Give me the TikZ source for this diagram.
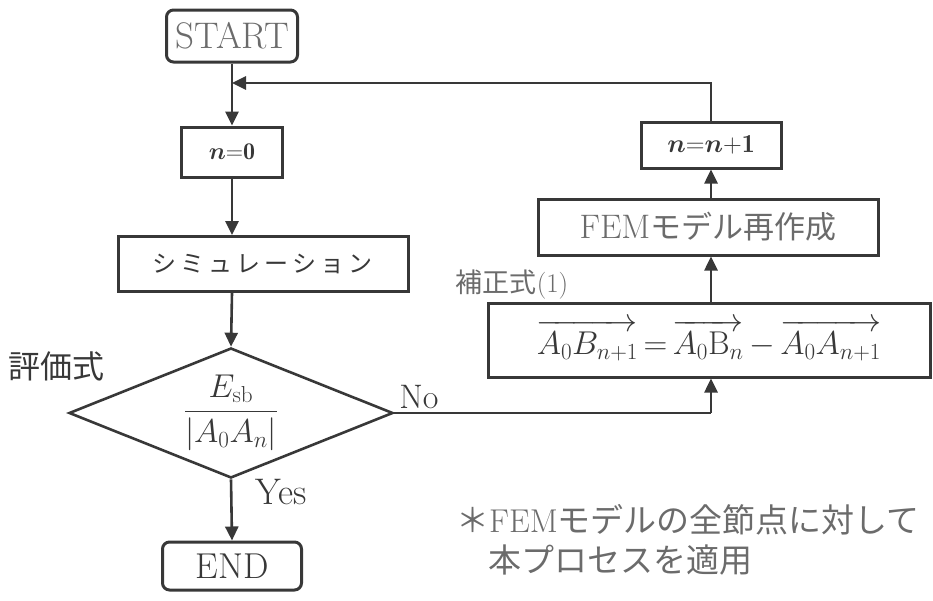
\RequirePackage{fix-cm}
\documentclass[tikz,border=0pt]{standalone}
\usepackage{amsmath}
\usepackage{fontspec}
\newfontfamily\cjk{Noto Sans CJK JP}
\usetikzlibrary{arrows.meta,shapes.geometric}
\definecolor{ink}{gray}{0.22}
\definecolor{lite}{gray}{0.42}
\tikzset{
  box/.style={draw=ink,line width=3pt,rectangle,inner sep=0pt,text=ink},
  rbox/.style={box,rounded corners=7pt},
  flow/.style={draw=ink,line width=2.6pt},
  arr/.style={flow,-{Triangle[length=14pt,width=13pt]}},
  lbl/.style={text=ink,inner sep=0pt},
}
\begin{document}
\begin{tikzpicture}[x=1pt,y=-1pt]
\useasboundingbox (0,0) rectangle (933,600);
% left column
\node[rbox,minimum width=131pt,minimum height=52pt,text=lite,font=\fontsize{37}{37}\selectfont] (start) at (232,36) {START};
\node[box,minimum width=101pt,minimum height=50pt,font=\fontsize{24}{24}\selectfont] (n0) at (232,152) {$\boldsymbol{n}{=}\mathbf{0}$};
\node[box,minimum width=290pt,minimum height=55pt,font=\cjk\fontsize{24}{24}\selectfont] (sim) at (263,264) {シ\,ミ\,ュ\,レ\,ー\,シ\,ョ\,ン};
\node[diamond,draw=ink,line width=2.6pt,minimum width=324pt,minimum height=130pt,aspect=2.5,inner sep=0pt,text=ink,font=\fontsize{33}{33}\selectfont] (dia) at (231,413) {$\displaystyle\frac{E_{\mathrm{sb}}}{|A_0A_n|}$};
\node[rbox,minimum width=139pt,minimum height=48pt,font=\fontsize{36}{36}\selectfont] (end) at (232,566) {END};
\node[lbl,font=\cjk\fontsize{32}{32}\selectfont] (eval) at (57,366) {評価式};
\node[lbl,font=\fontsize{34}{34}\selectfont] (no) at (419,397) {No};
\node[lbl,font=\fontsize{37}{37}\selectfont] (yes) at (281,492) {Yes};
% right column
\node[box,minimum width=442pt,minimum height=74pt,font=\fontsize{33}{33}\selectfont] (form) at (709,340)
  {$\overrightarrow{A_0B_{n+1}}\,{=}\,\overrightarrow{A_0\mathrm{B}_n}\,{-}\,\overrightarrow{A_0A_{n+1}}$};
\node[lbl,text=lite,font=\fontsize{27}{27}\selectfont] (hosei) at (512,285) {{\cjk 補正式}(1)};
\node[box,minimum width=340pt,minimum height=56pt,text=lite,font=\fontsize{34}{34}\selectfont] (fem) at (708,227) {FEM{\cjk\fontsize{31}{31}\selectfont モデル再作成}};
\node[box,minimum width=140pt,minimum height=46pt,font=\fontsize{26}{26}\selectfont] (inc) at (711,145) {$\boldsymbol{n}{=}\boldsymbol{n}{+}\mathbf{1}$};
% note
\node[lbl,text=lite,anchor=west,align=left,font=\fontsize{33}{40}\selectfont] (note) at (456,540)
  {{\cjk ＊}FEM{\cjk モデルの全節点に対して}\\\hspace*{32pt}{\cjk 本プロセスを適用}};
% connectors
\coordinate (j) at (232,83);
\coordinate (nc) at (711,413);
\draw[arr] (start.south) -- (n0.north);
\draw[arr] (n0.south) -- (n0.south |- sim.north);
\draw[arr] (n0.south |- sim.south) -- (dia.north);
\draw[arr] (dia.south) -- (end.north);
\draw[flow] (dia.east) -- (nc);
\draw[arr] (nc) -- (nc |- form.south);
\draw[arr] (form.north -| nc) -- (nc |- fem.south);
\draw[arr] (fem.north -| nc) -- (inc.south);
\draw[arr] (inc.north) |- (j);
\end{tikzpicture}
\end{document}
